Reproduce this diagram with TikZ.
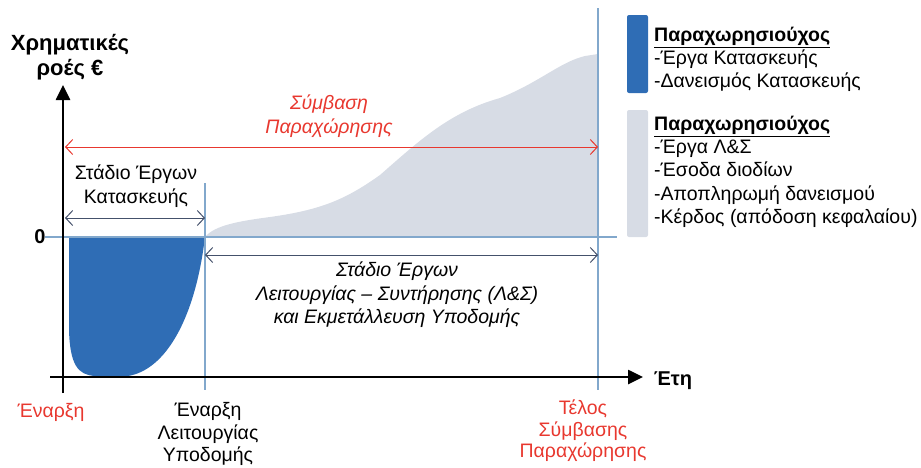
\documentclass[tikz,border=0pt]{standalone}
\usepackage{fontspec}
\setmainfont{Liberation Sans}
\usetikzlibrary{arrows.meta}
\definecolor{cblue}{HTML}{2F6DB5}
\definecolor{cgray}{HTML}{D7DCE5}
\definecolor{cline}{HTML}{82A8CC}
\definecolor{cred}{HTML}{E8382F}
\definecolor{cdark}{HTML}{44516B}
\tikzset{
  axis/.style={line width=2.6pt,-{Triangle[length=15pt,width=14pt]}},
  guide/.style={cline,line width=1.8pt},
  span/.style={line width=1pt,{Straight Barb[length=7pt,width=15pt]}-{Straight Barb[length=7pt,width=15pt]}},
  txt/.style={font=\fontsize{19.5}{23.5}\selectfont,align=center,inner sep=0pt},
  itxt/.style={font=\fontsize{19.5}{23.5}\selectfont\itshape,align=center,inner sep=0pt},
  bigb/.style={font=\fontsize{22}{24.5}\selectfont\bfseries,align=center,inner sep=0pt},
  leg/.style={font=\fontsize{19.5}{23}\selectfont,align=left,anchor=north west,inner sep=0pt},
  legbar/.style={rounded corners=2pt}
}
\begin{document}
\begin{tikzpicture}[x=1pt,y=-1pt]
\useasboundingbox (0,0) rectangle (921,467);
% gray area
\fill[cgray] (205,237) .. controls (215,225) and (240,221) .. (270,217)
  .. controls (320,210) and (345,200) .. (380,175)
  .. controls (420,140) and (450,112) .. (500,98)
  .. controls (540,82) and (560,62) .. (585,56)
  -- (598,54) -- (598,237) -- cycle;
% blue area
\fill[cblue] (69,237) -- (69,330) .. controls (70,365) and (78,375) .. (95,376)
  -- (128,376) .. controls (165,370) and (195,320) .. (205,237) -- cycle;
% guides
\coordinate (z0) at (45,237);
\coordinate (z1) at (617,237);
\draw[guide] (z0) -- (z1);
\coordinate (v1t) at (205,183);
\coordinate (v1b) at (205,390);
\draw[guide] (v1t) -- (v1b);
\coordinate (v2t) at (598,8);
\coordinate (v2b) at (598,390);
\draw[guide] (v2t) -- (v2b);
% axes
\coordinate (ya) at (63,393);
\coordinate (yb) at (63,85);
\draw[axis] (ya) -- (yb);
\coordinate (xa) at (50,377);
\coordinate (xb) at (643,377);
\draw[axis] (xa) -- (xb);
% spans
\coordinate (r0) at (65,147);
\coordinate (r1) at (598,147);
\draw[span,cred] (r0) -- (r1);
\coordinate (c0) at (65,218);
\coordinate (c1) at (205,218);
\draw[span,cdark] (c0) -- (c1);
\coordinate (o0) at (205,255);
\coordinate (o1) at (598,255);
\draw[span,cdark] (o0) -- (o1);
% legend bars
\fill[cblue,legbar] (627,15) rectangle (648,93);
\fill[cgray,legbar] (627,110) rectangle (648,237);
% texts
\node[bigb] (ylab) at (70,57) {Χρηματικές\\ροές €};
\node[bigb,font=\fontsize{20}{24}\selectfont\bfseries] (zero) at (40,237) {0};
\node[bigb,font=\fontsize{20}{24}\selectfont\bfseries] (xlab) at (673,381) {Έτη};
\node[itxt,cred] (contract) at (329,116) {Σύμβαση\\Παραχώρησης};
\node[txt] (constr) at (136,186) {Στάδιο Έργων\\Κατασκευής};
\node[itxt] (oper) at (397,295) {Στάδιο Έργων\\Λειτουργίας – Συντήρησης (Λ\&Σ)\\και Εκμετάλλευση Υποδομής};
\node[txt,cred] (start) at (51,412) {Έναρξη};
\node[txt,font=\fontsize{19.5}{22.5}\selectfont] (opstart) at (208,434) {Έναρξη\\Λειτουργίας\\Υποδομής};
\node[txt,cred,font=\fontsize{19.5}{21.5}\selectfont] (end) at (583,431) {Τέλος\\Σύμβασης\\Παραχώρησης};
\node[leg] (leg1) at (654,27) {\textbf{\underline{Παραχωρησιούχος}}\\-Έργα Κατασκευής\\-Δανεισμός Κατασκευής};
\node[leg,font=\fontsize{19.5}{23.2}\selectfont] (leg2) at (654,116) {\textbf{\underline{Παραχωρησιούχος}}\\-Έργα Λ\&Σ\\-Έσοδα διοδίων\\-Αποπληρωμή δανεισμού\\-Κέρδος (απόδοση κεφαλαίου)};
\end{tikzpicture}
\end{document}
